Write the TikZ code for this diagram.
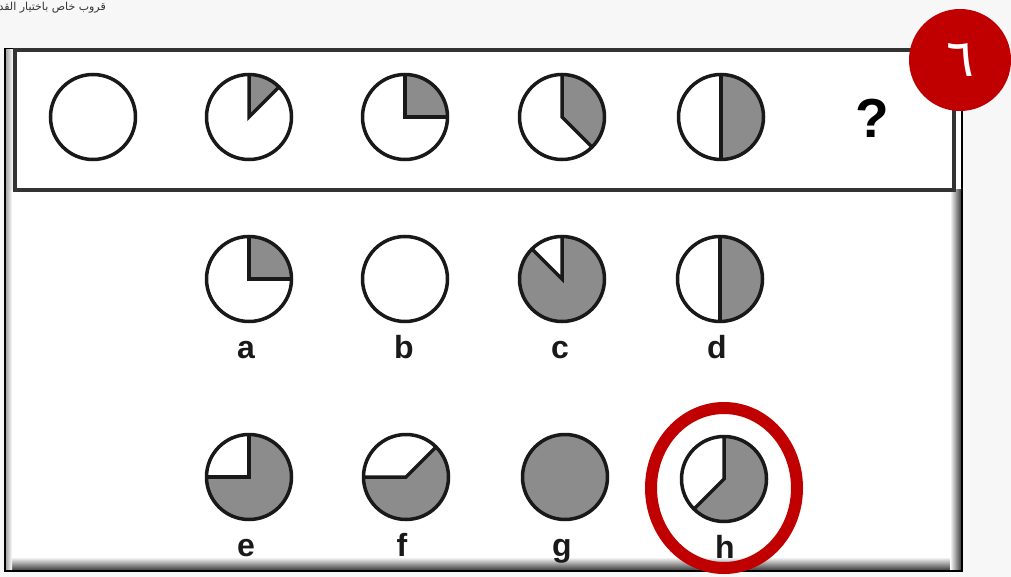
\documentclass[tikz,border=0pt]{standalone}
\usepackage{fontspec}
\setmainfont{Liberation Sans}
\newfontfamily\arabicfont[Script=Arabic]{DejaVu Sans}
\TeXXeTstate=1
\definecolor{piegray}{HTML}{8C8C8C}
\definecolor{badgered}{HTML}{C00000}
\definecolor{bgpage}{HTML}{F7F7F7}
\newcommand\pieblank[1]{%
  \fill[white] (#1) circle[radius=42.5];
  \draw[pieline] (#1) circle[radius=42.5];}
\newcommand\pieslice[3]{%
  \fill[white] (#1) circle[radius=42.5];
  \fill[piefill] (#1) -- ++(#2:42.5) arc[start angle=#2, end angle=#3, radius=42.5] -- cycle;
  \draw[pieline] (#1) ++(#2:42.5) -- (#1) -- ++(#3:42.5);
  \draw[pieline] (#1) circle[radius=42.5];}
\begin{document}
\begin{tikzpicture}[x=1pt,y=1pt,
  pieline/.style={draw=black!90, line width=3.5pt, line join=miter},
  piefill/.style={fill=piegray},
  lbl/.style={font=\fontsize{32}{32}\selectfont\bfseries, anchor=base, inner sep=0pt, text=black!90},
]
\fill[bgpage] (0,0) rectangle (1011,-577);
\useasboundingbox (0,0) rectangle (1011,-577);
% header text (cut at the left edge in the reference)
\node[anchor=north east, font=\arabicfont\fontsize{11}{12}\selectfont, text=black!80, inner sep=0pt] (hdr) at (106,-2) {\beginR قروب خاص باختيار القد\endR};
% outer frame
\fill[white] (5,-49) rectangle (962,-571);
\shade[top color=white, bottom color=black!75] (6,-557) rectangle (961,-570);
\shade[left color=white, right color=black!75] (950,-190) rectangle (961,-570);
\shade[left color=black!35, right color=white] (6,-190) rectangle (12,-570);
\draw[line width=2.5pt, black] (5,-49) rectangle (962,-571);
% question strip
\shade[left color=black!35, right color=white] (6,-50) rectangle (13,-190);
\draw[line width=3.5pt, black!80] (15,-50) rectangle (954,-190);
% coordinates
\coordinate (p1) at (93,-117);
\coordinate (p2) at (249,-117);
\coordinate (p3) at (405,-117);
\coordinate (p4) at (562,-117);
\coordinate (p5) at (721,-117);
\coordinate (ca) at (249,-279);
\coordinate (cb) at (405,-279);
\coordinate (cc) at (562,-279);
\coordinate (cd) at (720,-279);
\coordinate (ce) at (249,-477);
\coordinate (cf) at (406,-477);
\coordinate (cg) at (565,-477);
\coordinate (ch) at (724,-479);
% sequence
\pieblank{p1}
\pieslice{p2}{45}{90}
\pieslice{p3}{0}{90}
\pieslice{p4}{-45}{90}
\pieslice{p5}{-90}{90}
\node[font=\fontsize{55}{55}\selectfont\bfseries, inner sep=0pt] (q) at (872,-118) {?};
% answers
\pieslice{ca}{0}{90}
\pieblank{cb}
\pieslice{cc}{135}{450}
\pieslice{cd}{-90}{90}
\pieslice{ce}{180}{450}
\pieslice{cf}{180}{405}
\fill[piefill] (cg) circle[radius=42.5];
\draw[pieline] (cg) circle[radius=42.5];
\pieslice{ch}{-135}{90}
% labels
\node[lbl] (la) at (246,-358) {a};
\node[lbl] (lb) at (404,-358) {b};
\node[lbl] (lc) at (560,-358) {c};
\node[lbl] (ld) at (717,-358) {d};
\node[lbl] (le) at (246,-556) {e};
\node[lbl] (lf) at (402,-556) {f};
\node[lbl] (lg) at (562,-556) {g};
\node[lbl] (lh) at (725,-558) {h};
% answer mark
\draw[badgered, line width=12pt] (724,-488) ellipse[x radius=73, y radius=80];
% badge
\node[circle, fill=badgered, minimum size=102pt, inner sep=0pt] (badge) at (960,-60) {};
\node[text=white, font=\arabicfont\fontsize{52}{52}\selectfont, inner sep=0pt] (num) at (badge.center) {٦};
\end{tikzpicture}
\end{document}
